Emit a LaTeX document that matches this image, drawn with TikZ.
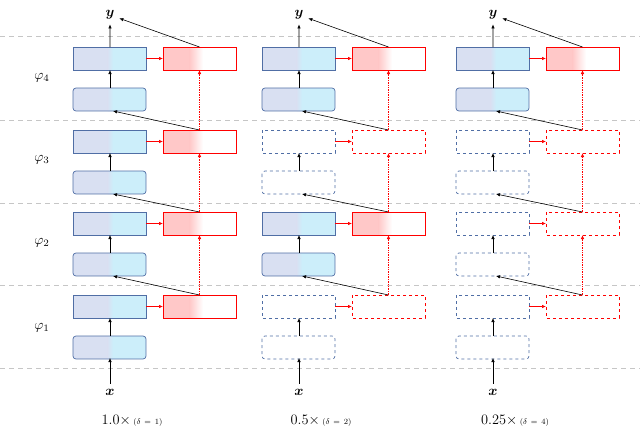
\documentclass[tikz,border=0pt]{standalone}
\usepackage{bm}
\usetikzlibrary{arrows.meta}
\begin{document}
\begin{tikzpicture}[x=1pt,y=-1pt,
  blk/.style={draw=bcol, line width=0.7pt},
  red/.style={draw=red, line width=0.7pt},
  ghostb/.style={draw=bcol, dashed, line width=0.7pt},
  ghostr/.style={draw=red, dashed, line width=0.7pt},
  arr/.style={-{Latex[length=4pt,width=3.5pt]}, line width=0.6pt},
  sep/.style={draw=gray!45, dash pattern=on 5pt off 4pt, line width=0.8pt},
  lbl/.style={scale=1.4}]
\definecolor{lav}{RGB}{217,224,242}
\definecolor{cya}{RGB}{204,238,250}
\definecolor{pnk}{RGB}{255,200,200}
\definecolor{bcol}{RGB}{80,110,165}
\useasboundingbox (0,0) rectangle (640,432);
\foreach \yy in {36,120,203,285,368} \draw[sep] (0,\yy) -- (640,\yy);
\node[lbl] at (42,78) {$\varphi_4$};
\node[lbl] at (42,160) {$\varphi_3$};
\node[lbl] at (42,243) {$\varphi_2$};
\node[lbl] at (42,328) {$\varphi_1$};
% columns: offset / caption / delta
\foreach \ox/\cp/\dl [count=\ci] in {0/{1.0}/1, 189/{0.5}/2, 383/{0.25}/4}{
  \begin{scope}[xshift=\ox]
  \node[lbl] (y\ci) at (110,15) {$\bm{y}$};
  \node[lbl] (x\ci) at (110,392) {$\bm{x}$};
  \node at (132,421) {\fontsize{15}{16}\selectfont$\mathrm{\cp}{\times}$\,{\footnotesize$(\delta\,=\,\dl)$}};
  \foreach \k/\tp in {1/295,2/212,3/130,4/47}{
    \pgfmathtruncatemacro{\on}{(\k==4) || (\dl==1) || (\dl==2 && \k==2)}
    \pgfmathsetmacro{\bt}{\tp+41}
    \coordinate (R\k) at (199.5,\tp);
    \coordinate (Rb\k) at (199.5,\tp+23);
    \ifnum\on=1
      \foreach \yb/\rc in {\tp/0,\bt/3}{
        \begin{scope}
        \clip[rounded corners=\rc pt] (73,\yb) rectangle (146,\yb+23);
        \fill[lav] (73,\yb) rectangle (108,\yb+23);
        \shade[left color=lav, right color=cya] (107.5,\yb) rectangle (113,\yb+23);
        \fill[cya] (112.5,\yb) rectangle (146,\yb+23);
        \end{scope}
        \draw[blk, rounded corners=\rc pt] (73,\yb) rectangle (146,\yb+23);
      }
      \fill[pnk] (163,\tp) rectangle (190,\tp+23);
      \shade[left color=pnk, right color=white] (189.5,\tp) rectangle (203,\tp+23);
      \draw[red] (163,\tp) rectangle (236,\tp+23);
    \else
      \draw[ghostb] (73,\tp) rectangle (146,\tp+23);
      \draw[ghostb, rounded corners=3pt] (73,\bt) rectangle (146,\bt+23);
      \draw[ghostr] (163,\tp) rectangle (236,\tp+23);
    \fi
    \coordinate (T\k) at (110,\tp);
    \coordinate (B\k) at (110,\tp+23);
    \coordinate (Rt\k) at (110,\bt);
    \coordinate (Rbot\k) at (113,\bt+23);
    \draw[arr] (Rt\k) -- (B\k);
    \draw[arr, red] (146,\tp+11.5) -- (163,\tp+11.5);
  }
  \coordinate (xin) at (110,358);
  \draw[arr] (x\ci.north) -- (xin);
  \draw[arr] (R1) -- (Rbot2);
  \draw[arr] (R2) -- (Rbot3);
  \draw[arr] (R3) -- (Rbot4);
  \draw[arr] (T4) -- (y\ci);
  \draw[arr] (R4) -- (y\ci);
  \draw[arr, red, densely dotted] (R1) -- (Rb2);
  \draw[arr, red, densely dotted] (R2) -- (Rb3);
  \draw[arr, red, densely dotted] (R3) -- (Rb4);
  \end{scope}
}
\end{tikzpicture}
\end{document}
